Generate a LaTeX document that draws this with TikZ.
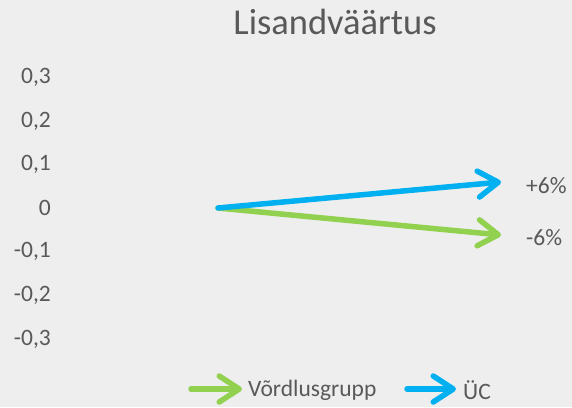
\documentclass[tikz,border=0pt]{standalone}
\usepackage{fontspec}
\setmainfont{Carlito}
\usetikzlibrary{arrows.meta}
\definecolor{bg}{HTML}{EEEEEE}
\definecolor{txt}{HTML}{595959}
\definecolor{cblue}{HTML}{00B0F0}
\definecolor{cgreen}{HTML}{92D050}
\tikzset{
  lbl/.style={text=txt,font=\fontsize{23.5}{26}\selectfont,inner sep=0pt},
  ylbl/.style={lbl,anchor=east},
  arr/.style={line width=5.5pt,line cap=round,-{Straight Barb[length=20pt,width=26pt,round]}},
}
\begin{document}
\begin{tikzpicture}[x=1pt,y=-1pt]
\fill[bg] (0,0) rectangle (572,407);
\useasboundingbox (0,0) rectangle (572,407);
\node[text=txt,font=\fontsize{36.5}{40}\selectfont,inner sep=0pt] (title) at (335,22) {Lisandväärtus};
\node[ylbl] (y3) at (51,77) {0,3};
\node[ylbl] (y2) at (51,121) {0,2};
\node[ylbl] (y1) at (51,164) {0,1};
\node[ylbl] (y0) at (51,208) {0};
\node[ylbl] (ym1) at (51,251) {-0,1};
\node[ylbl] (ym2) at (51,295) {-0,2};
\node[ylbl] (ym3) at (51,339) {-0,3};
\coordinate (o) at (218,208);
\coordinate (tb) at (501,182);
\coordinate (tg) at (501,235);
\draw[arr,cgreen] (o) -- (tg);
\draw[arr,cblue] (o) -- (tb);
\node[lbl,anchor=west] (pb) at (526,186) {+6\%};
\node[lbl,anchor=west] (pg) at (526,238) {-6\%};
\coordinate (lg1) at (191,389);
\coordinate (lg2) at (242,389);
\draw[arr,cgreen] (lg1) -- (lg2);
\node[lbl,anchor=west] (lgt) at (248,390) {Võrdlusgrupp};
\coordinate (lb1) at (407,389);
\coordinate (lb2) at (456,389);
\draw[arr,cblue] (lb1) -- (lb2);
\node[lbl,anchor=west] (lbt) at (463,390) {ÜC};
\end{tikzpicture}
\end{document}
